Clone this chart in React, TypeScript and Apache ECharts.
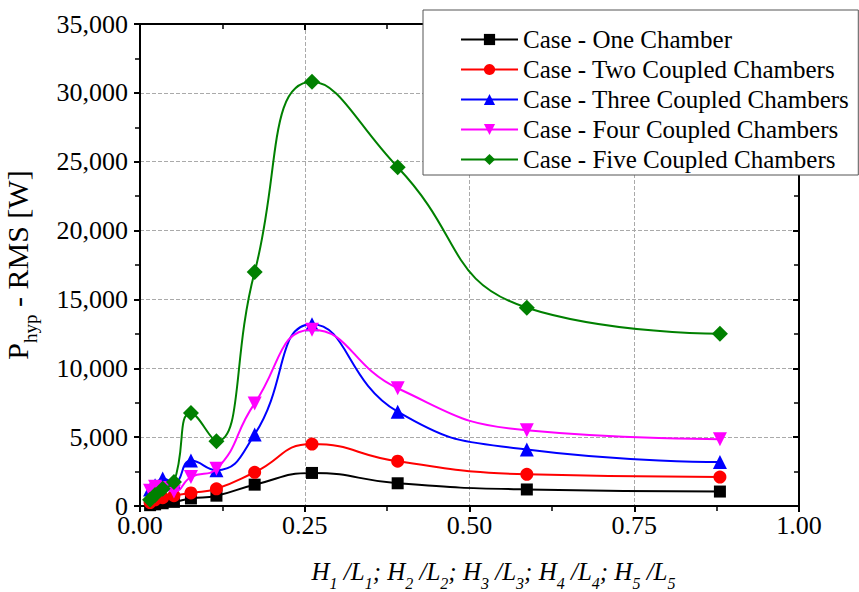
import React, { useEffect, useRef } from "react";
import * as echarts from "echarts";

const ratios = [0.0153, 0.0229, 0.0344, 0.0515, 0.0773, 0.116, 0.174, 0.261, 0.391, 0.587, 0.88];

const seriesNames = [
  "Case - One Chamber",
  "Case - Two Coupled Chambers",
  "Case - Three Coupled Chambers",
  "Case - Four Coupled Chambers",
  "Case - Five Coupled Chambers",
];

const oneChamber = [60, 120, 200, 300, 550, 750, 1550, 2400, 1650, 1200, 1050];
const twoChambers = [250, 450, 600, 750, 950, 1250, 2450, 4500, 3250, 2300, 2100];
const threeChambers = [1200, 1500, 2000, 1700, 3300, 2600, 5200, 13200, 6850, 4100, 3200];
const fourChambers = [1100, 1400, 1300, 1050, 2100, 2700, 7450, 12800, 8550, 5500, 4850];
const fiveChambers = [450, 800, 1250, 1750, 6750, 4700, 17000, 30800, 24600, 14400, 12500];

const colors = ["#000000", "#ff0000", "#0000ff", "#ff00ff", "#008000"];
const symbols = ["rect", "circle", "triangle", "triangle", "diamond"];
const symbolRotates = [0, 0, 0, 180, 0];
const symbolSizes = [12, 13, 14, 14, 16];

const FONT = "'Liberation Serif', 'Times New Roman', serif";

export default function App() {
  const ref = useRef<HTMLDivElement>(null);
  useEffect(() => {
    if (!ref.current) return;
    const chart = echarts.init(ref.current, null, { renderer: "svg" });
    const allData = [oneChamber, twoChambers, threeChambers, fourChambers, fiveChambers];
    const series = allData.map((vals, i) => ({
      name: seriesNames[i],
      type: "line",
      smooth: 0.5,
      xAxisIndex: 0,
      yAxisIndex: 0,
      data: vals.map((v, j) => [ratios[j], v]),
      symbol: symbols[i],
      symbolRotate: symbolRotates[i],
      symbolSize: symbolSizes[i],
      lineStyle: { color: colors[i], width: 2 },
      itemStyle: { color: colors[i] },
      z: 2 + i,
    }));
    const tickStyle = { color: "#000", width: 2 };
    const minorStyle = { color: "#000", width: 1.5 };
    const xName =
      "{m|H}{s|1}{m| /L}{s|1}{m|; H}{s|2}{m| /L}{s|2}{m|; H}{s|3}{m| /L}{s|3}{m|; H}{s|4}{m| /L}{s|4}{m|; H}{s|5}{m| /L}{s|5}";
    const option: any = {
      animation: false,
      backgroundColor: "#ffffff",
      textStyle: { fontFamily: FONT },
      grid: {
        left: 140,
        right: 60,
        top: 24,
        bottom: 86,
        containLabel: false,
        outerBoundsMode: "none",
      },
      legend: {
        orient: "vertical",
        left: 423,
        top: 10,
        padding: [17, 9, 3, 37],
        itemWidth: 57,
        itemHeight: 14,
        itemGap: 5,
        backgroundColor: "#ffffff",
        borderColor: "#555555",
        borderWidth: 1,
        textStyle: { fontFamily: FONT, fontSize: 25, color: "#000" },
        data: seriesNames,
      },
      xAxis: [
        {
          type: "value",
          min: 0,
          max: 1,
          interval: 0.25,
          position: "bottom",
          name: xName,
          nameLocation: "middle",
          nameGap: 53,
          nameTextStyle: {
            padding: [0, 0, 0, 48],
            rich: {
              m: {
                fontFamily: FONT,
                fontStyle: "italic",
                fontSize: 25,
                color: "#000",
                verticalAlign: "bottom",
                padding: [0, 0, 7, 0],
              },
              s: {
                fontFamily: FONT,
                fontStyle: "italic",
                fontSize: 16,
                color: "#000",
                verticalAlign: "bottom",
              },
            },
          },
          axisLine: { show: true, onZero: false, lineStyle: { color: "#000", width: 2 } },
          axisTick: { show: true, inside: false, length: 6, lineStyle: tickStyle },
          minorTick: { show: true, splitNumber: 2, length: 5, lineStyle: minorStyle },
          axisLabel: {
            fontFamily: FONT,
            fontSize: 26,
            color: "#000",
            margin: 6,
            formatter: (v: number) => v.toFixed(2),
          },
          splitLine: { show: true, lineStyle: { color: "#aaaaaa", type: "dashed", width: 1 } },
        },
        {
          type: "value",
          min: 0,
          max: 1,
          interval: 0.25,
          position: "top",
          axisLine: { show: true, onZero: false, lineStyle: { color: "#000", width: 2 } },
          axisTick: { show: true, inside: true, length: 6, lineStyle: tickStyle },
          minorTick: { show: true, splitNumber: 2, length: 5, lineStyle: minorStyle },
          axisLabel: { show: false },
          splitLine: { show: false },
        },
      ],
      yAxis: [
        {
          type: "value",
          min: 0,
          max: 35000,
          interval: 5000,
          position: "left",
          name: "{m|P}{s|hyp}{m| - RMS [W]}",
          nameLocation: "middle",
          nameGap: 100,
          nameTextStyle: {
            rich: {
              m: {
                fontFamily: FONT,
                fontSize: 30,
                color: "#000",
                verticalAlign: "bottom",
                padding: [0, 0, 8, 0],
              },
              s: {
                fontFamily: FONT,
                fontSize: 19,
                color: "#000",
                verticalAlign: "bottom",
              },
            },
          },
          axisLine: { show: true, onZero: false, lineStyle: { color: "#000", width: 2 } },
          axisTick: { show: true, inside: false, length: 6, lineStyle: tickStyle },
          minorTick: { show: true, splitNumber: 2, length: 5, lineStyle: minorStyle },
          axisLabel: {
            fontFamily: FONT,
            fontSize: 26,
            color: "#000",
            margin: 12,
            formatter: (v: number) => v.toLocaleString("en-US"),
          },
          splitLine: { show: true, lineStyle: { color: "#aaaaaa", type: "dashed", width: 1 } },
        },
        {
          type: "value",
          min: 0,
          max: 35000,
          interval: 5000,
          position: "right",
          axisLine: { show: true, onZero: false, lineStyle: { color: "#000", width: 2 } },
          axisTick: { show: true, inside: true, length: 6, lineStyle: tickStyle },
          minorTick: { show: true, splitNumber: 2, length: 5, lineStyle: minorStyle },
          axisLabel: { show: false },
          splitLine: { show: false },
        },
      ],
      series,
    };
    chart.setOption(option);
    return () => chart.dispose();
  }, []);
  return <div ref={ref} style={{ width: 859, height: 592, position: "absolute", left: 0, top: 0 }} />;
}
